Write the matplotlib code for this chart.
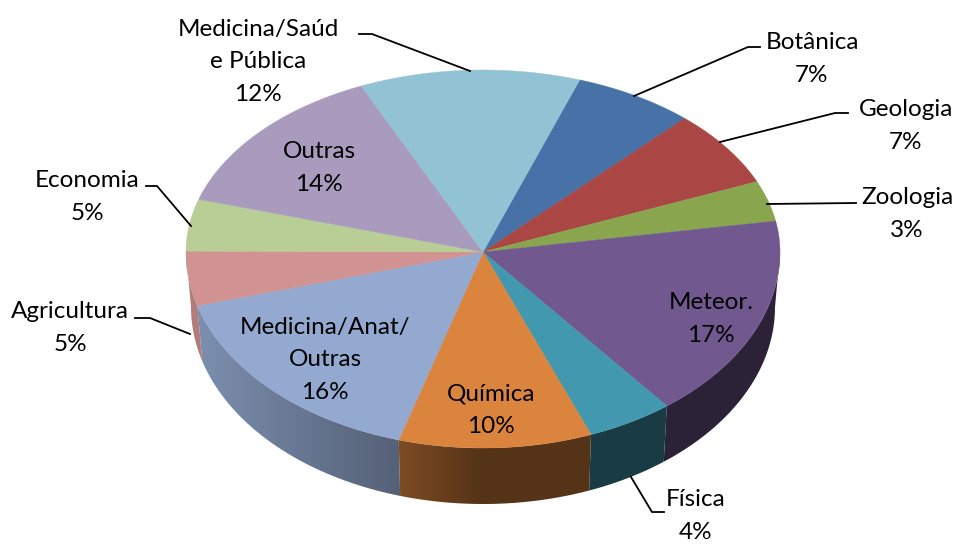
"""3D-style pie chart of publications by field."""
import numpy as np
import matplotlib
matplotlib.use("Agg")
import matplotlib.pyplot as plt
from matplotlib.colors import to_rgb
from matplotlib.patches import Polygon

# data, clockwise from the top
names = ["Botânica", "Geologia", "Zoologia", "Meteor.", "Física", "Química",
         "Medicina/Anat/\nOutras", "Agricultura", "Economia", "Outras",
         "Medicina/Saúd\ne Pública"]
# percentages as printed on the labels
shares = [7, 7, 3, 17, 4, 10, 16, 5, 5, 14, 12]
# slice sizes (the tilt distorts them a little)
slice_sizes = [6.6, 6.8, 3.6, 17.1, 4.7, 10.5, 16.0, 4.5, 4.6, 13.6, 12.0]
colors = ["#4672a8", "#aa4643", "#89a54e", "#71588f", "#4198af", "#db843d",
          "#93a9cf", "#d19392", "#b9cd96", "#a99bbd", "#92c3d4"]

# pie geometry in pixels
CX, CY = 483, 252
RX, RY_UP, RY_LOW = 297, 182, 196
DEPTH, RX_BOT, RY_BOT = 55, 292, 197
START = 19  # degrees clockwise from the top

# label centres and leader lines, in pixels
label_pos = [(812, 59), (906, 126), (907, 214), (711, 319), (696, 516), (491, 410),
             (325, 360), (70, 328), (87, 197), (319, 168), (258, 62)]
leaders = [[(760, 47), (748, 47), (634, 96)],
           [(848, 113), (835, 113), (720, 142)],
           [(856, 203), (767, 204)],
           None,
           [(664, 512), (652, 512), (631, 477)],
           None, None,
           [(135, 318), (150, 318), (190, 334)],
           [(146, 186), (157, 186), (191, 226)],
           None,
           [(359, 34), (372, 34), (470, 71)]]

plt.rcParams["font.family"] = ["Lato", "DejaVu Sans"]

fig = plt.figure(figsize=(9.57, 5.44), dpi=100)
ax = fig.add_axes([0, 0, 1, 1])
ax.axis("off")


def top_xy(deg):
    t = np.radians(deg)
    c = np.cos(t)
    ry = np.where(c >= 0, RY_UP, RY_LOW)
    return CX + RX * np.sin(t), CY - ry * c


def bottom_xy(deg):
    t = np.radians(deg)
    return CX + RX_BOT * np.sin(t), CY + DEPTH - RY_BOT * np.cos(t)


def shade(x):
    # walls get darker towards the middle, then stay flat
    return np.interp(x, [195, 398, 480], [0.85, 0.575, 0.39])


edges = START + np.cumsum([0] + slice_sizes) / sum(slice_sizes) * 360

# side walls: a horizontal gradient image clipped to each wall
for i, col in enumerate(colors):
    lo, hi = max(edges[i], 90), min(edges[i + 1], 270)
    if lo >= hi:
        continue
    arc = np.linspace(lo, hi, 120)
    tx, ty = top_xy(arc)
    bx, by = bottom_xy(arc)
    wall = np.c_[np.r_[tx, bx[::-1]], np.r_[ty, by[::-1]]]
    x0, x1 = wall[:, 0].min() - 1, wall[:, 0].max() + 1
    gx = np.linspace(x0, x1, 200)
    img = np.array(to_rgb(col))[None, None, :] * shade(gx)[None, :, None]
    im = ax.imshow(img, extent=[x0, x1, wall[:, 1].max() + 1, wall[:, 1].min() - 1],
                   aspect="auto", interpolation="bilinear", zorder=1)
    im.set_clip_path(Polygon(wall, closed=True, transform=ax.transData))

# top face
for i, col in enumerate(colors):
    arc = np.linspace(edges[i], edges[i + 1], 80)
    xs, ys = top_xy(arc)
    ax.fill(np.r_[CX, xs], np.r_[CY, ys], color=col, lw=0.3, zorder=2)

# labels and leader lines
for name, share, (lx, ly), line in zip(names, shares, label_pos, leaders):
    ax.text(lx, ly, f"{name}\n{share}%", ha="center", va="center",
            fontsize=17.5, color="black", linespacing=1.66, zorder=4)
    if line:
        ax.plot(*zip(*line), color="black", lw=1.3, solid_joinstyle="miter", zorder=3)

ax.set_xlim(0, 957)
ax.set_ylim(544, 0)

fig.savefig("out.png", dpi=100, facecolor="white")
